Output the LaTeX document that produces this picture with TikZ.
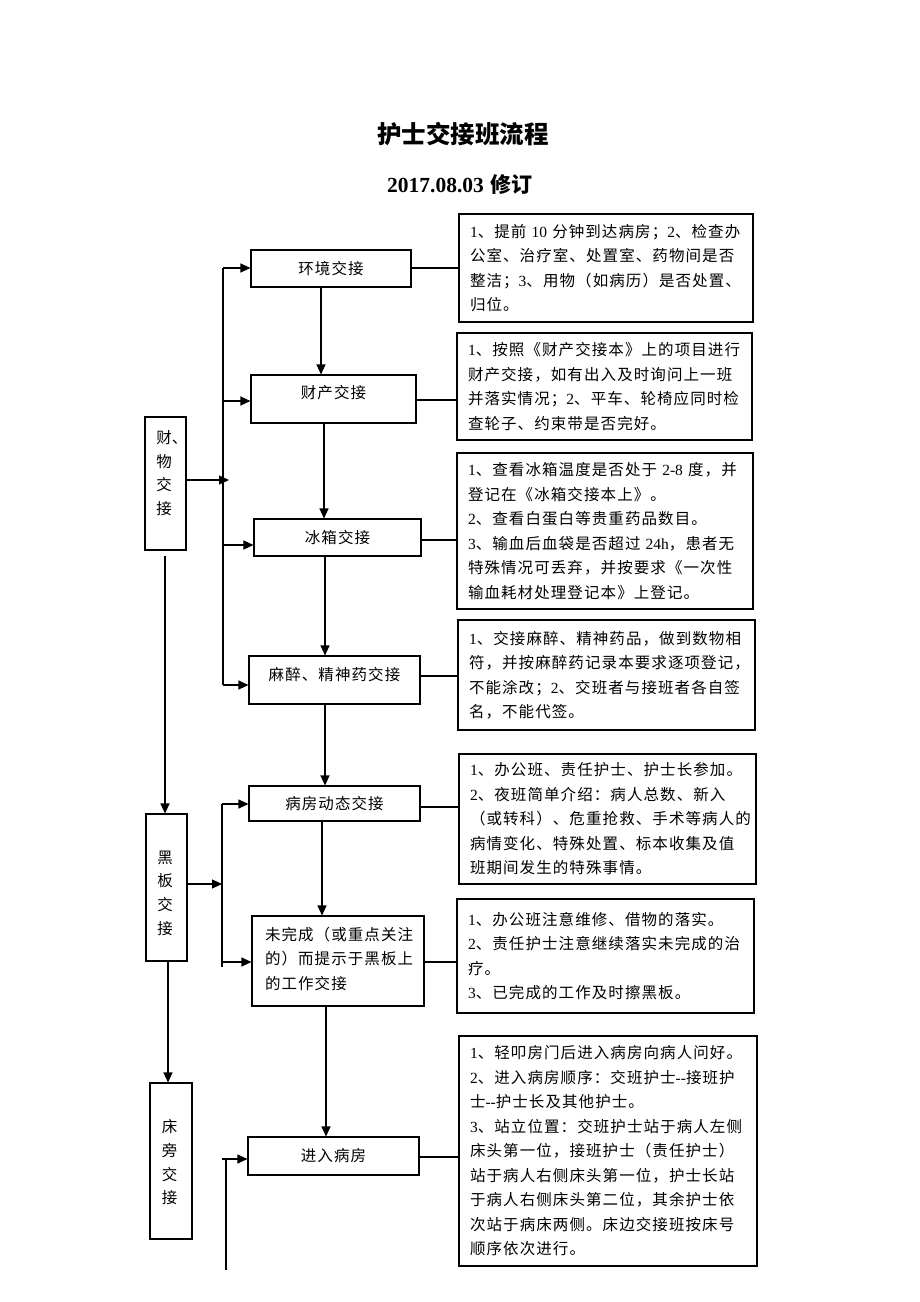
\documentclass[tikz,border=0pt]{standalone}
\usepackage{fontspec}
\setmainfont{Liberation Serif}
\newfontfamily\cjk[LetterSpace=7]{Noto Sans CJK SC}
\newfontfamily\cjkn{Noto Sans CJK SC}
\newfontfamily\latin{Liberation Serif}
\usetikzlibrary{arrows.meta}
\newcommand\nm[1]{{\latin #1}}
\tikzset{
  box/.style={draw=black, line width=1.1pt, inner sep=0pt},
  mtxt/.style={font=\cjk\fontsize{15.5}{24.5}\selectfont, inner sep=0pt},
  stxt/.style={font=\cjkn\fontsize{15.5}{23.7}\selectfont, inner sep=0pt, align=center},
  tbox/.style={draw=black, line width=1.1pt, inner xsep=11pt, inner ysep=0pt, align=left,
    font=\cjk\fontsize{15.5}{24.5}\selectfont},
  arr/.style={line width=1.1pt, -{Triangle[length=10pt,width=9pt]}},
  conn/.style={line width=1.1pt},
}
\begin{document}
\begin{tikzpicture}[x=1pt,y=-1pt]
\fill[white] (0,0) rectangle (920,1302);
\useasboundingbox (0,0) rectangle (920,1302);

% titles
\node[font=\cjkn\bfseries\fontsize{24.5}{28}\selectfont, inner sep=0pt] (title) at (463,134) {护士交接班流程};
\node[font=\cjkn\bfseries\fontsize{21}{26}\selectfont, inner sep=0pt] (sub) at (460,185) {{\latin\bfseries\fontsize{21.5}{26}\selectfont 2017.08.03}\hspace{7pt}修订};

% main column
\node[box, minimum width=160pt, minimum height=37pt, label={[mtxt]center:环境交接}] (env) at (331,268.5) {};
\node[box, minimum width=165pt, minimum height=48pt, label={[mtxt,yshift=6pt]center:财产交接}] (asset) at (333.5,399) {};
\node[box, minimum width=167pt, minimum height=37pt, label={[mtxt]center:冰箱交接}] (fridge) at (337.5,537.5) {};
\node[box, minimum width=171pt, minimum height=48pt, label={[mtxt,yshift=5pt]center:麻醉、精神药交接}] (drug) at (334.5,680) {};
\node[box, minimum width=171pt, minimum height=35pt, label={[mtxt]center:病房动态交接}] (ward) at (334.5,803.5) {};
\node[box, minimum width=172pt, minimum height=90pt, label={[mtxt,align=left,text width=150pt,xshift=2pt,yshift=2.5pt]center:未完成（或重点关注\\的）而提示于黑板上\\的工作交接}] (todo) at (338,961) {};
\node[box, minimum width=171pt, minimum height=38pt, label={[mtxt]center:进入病房}] (enter) at (333.5,1156) {};

% side column
\node[box, minimum width=41pt, minimum height=133pt, label={[stxt,xshift=-1.5pt,yshift=10.5pt]center:财\rlap{、}\\物\\交\\接}] (caiwu) at (165.5,483.5) {};
\node[box, minimum width=41pt, minimum height=147pt, label={[stxt,xshift=-1.5pt,yshift=-5.5pt]center:黑\\板\\交\\接}] (heiban) at (166.5,887.5) {};
\node[box, minimum width=42pt, minimum height=156pt, label={[stxt,xshift=-1.5pt,yshift=-1.5pt]center:床\\旁\\交\\接}] (chuang) at (171,1161) {};

% right text boxes
\node[tbox, text width=272pt, minimum height=108pt] (tb1) at (606,268) {%
\nm{1}、提前~\nm{10}~分钟到达病房；\nm{2}、检查办\\
公室、治疗室、处置室、药物间是否\\
整洁；\nm{3}、用物（如病历）是否处置、\\
归位。};
\node[tbox, text width=273pt, minimum height=107pt] (tb2) at (604.5,386.5) {%
\nm{1}、按照《财产交接本》上的项目进行\\
财产交接，如有出入及时询问上一班\\
并落实情况；\nm{2}、平车、轮椅应同时检\\
查轮子、约束带是否完好。};
\node[tbox, text width=274pt, minimum height=156pt] (tb3) at (605,531) {%
\nm{1}、查看冰箱温度是否处于~\nm{2-8}~度，并\\
登记在《冰箱交接本上》。\\
\nm{2}、查看白蛋白等贵重药品数目。\\
\nm{3}、输血后血袋是否超过~\nm{24h}，患者无\\
特殊情况可丢弃，并按要求《一次性\\
输血耗材处理登记本》上登记。};
\node[tbox, text width=275pt, minimum height=110pt] (tb4) at (606.5,675) {%
\nm{1}、交接麻醉、精神药品，做到数物相\\
符，并按麻醉药记录本要求逐项登记，\\
不能涂改；\nm{2}、交班者与接班者各自签\\
名，不能代签。};
\node[tbox, text width=275pt, minimum height=130pt] (tb5) at (607.5,819) {%
\nm{1}、办公班、责任护士、护士长参加。\\
\nm{2}、夜班简单介绍：病人总数、新入\\
（或转科）、危重抢救、手术等病人的\\
病情变化、特殊处置、标本收集及值\\
班期间发生的特殊事情。};
\node[tbox, text width=275pt, minimum height=114pt] (tb6) at (605.5,956) {%
\nm{1}、办公班注意维修、借物的落实。\\
\nm{2}、责任护士注意继续落实未完成的治\\
疗。\\
\nm{3}、已完成的工作及时擦黑板。};
\node[tbox, text width=276pt, minimum height=230pt] (tb7) at (608,1151) {%
\nm{1}、轻叩房门后进入病房向病人问好。\\
\nm{2}、进入病房顺序：交班护士\nm{-{}-}接班护\\
士\nm{-{}-}护士长及其他护士。\\
\nm{3}、站立位置：交班护士站于病人左侧\\
床头第一位，接班护士（责任护士）\\
站于病人右侧床头第一位，护士长站\\
于病人右侧床头第二位，其余护士依\\
次站于病床两侧。床边交接班按床号\\
顺序依次进行。};

% main vertical arrows
\draw[arr] (env.south -| 321,0) -- (asset.north -| 321,0);
\draw[arr] (asset.south -| 324,0) -- (fridge.north -| 324,0);
\draw[arr] (fridge.south -| 325,0) -- (drug.north -| 325,0);
\draw[arr] (drug.south -| 325,0) -- (ward.north -| 325,0);
\draw[arr] (ward.south -| 322,0) -- (todo.north -| 322,0);
\draw[arr] (todo.south -| 326,0) -- (enter.north -| 326,0);

% side vertical arrows
\draw[arr, shorten <=5pt] (caiwu.south -| 165,0) -- (heiban.north -| 165,0);
\draw[arr] (heiban.south -| 168,0) -- (chuang.north -| 168,0);

% spine 1
\coordinate (s1a) at (223,268);
\coordinate (s1b) at (223,401);
\coordinate (s1c) at (223,545);
\coordinate (s1d) at (223,685);
\coordinate (c1) at (229,480);
\draw[conn] (s1a) -- (s1d);
\draw[arr] (s1a) -- (env.west |- s1a);
\draw[arr] (s1b) -- (asset.west |- s1b);
\draw[arr] (s1c) -- (fridge.west |- s1c);
\draw[arr] (s1d) -- (drug.west |- s1d);
\draw[arr] (caiwu.east |- c1) -- (c1);

% spine 2
\coordinate (s2a) at (222,804);
\coordinate (s2b) at (222,962);
\coordinate (s2e) at (222,967);
\coordinate (c2) at (222,884);
\draw[conn] (s2a) -- (s2e);
\draw[arr] (s2a) -- (ward.west |- s2a);
\draw[arr] (s2b) -- (todo.west |- s2b);
\draw[arr] (heiban.east |- c2) -- (c2);

% spine 3
\coordinate (s3a) at (226,1159);
\coordinate (s3b) at (226,1270);
\coordinate (s3s) at (222,1159);
\draw[conn] (s3b) -- (s3a);
\draw[arr] (s3s) -- (enter.west |- s3s);

% connectors to text boxes
\draw[conn] (env.east |- 0,268) -- (tb1.west |- 0,268);
\draw[conn] (asset.east |- 0,400) -- (tb2.west |- 0,400);
\draw[conn] (fridge.east |- 0,540) -- (tb3.west |- 0,540);
\draw[conn] (drug.east |- 0,676) -- (tb4.west |- 0,676);
\draw[conn] (ward.east |- 0,807) -- (tb5.west |- 0,807);
\draw[conn] (todo.east |- 0,962) -- (tb6.west |- 0,962);
\draw[conn] (enter.east |- 0,1157) -- (tb7.west |- 0,1157);
\end{tikzpicture}
\end{document}
